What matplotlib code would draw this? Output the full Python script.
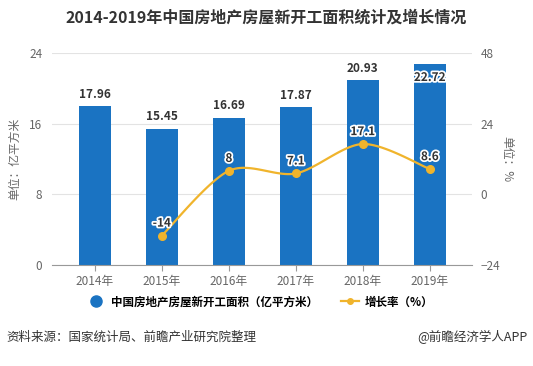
import numpy as np
import matplotlib
matplotlib.use("Agg")
import matplotlib.pyplot as plt
import matplotlib.patheffects as pe
from matplotlib.lines import Line2D

plt.rcParams['font.family'] = ['Noto Sans CJK SC', 'DejaVu Sans']

years = ["2014年", "2015年", "2016年", "2017年", "2018年", "2019年"]
area = [17.96, 15.45, 16.69, 17.87, 20.93, 22.72]
growth = [None, -14, 8, 7.1, 17.1, 8.6]
growth_labels = ["", "-14", "8", "7.1", "17.1", "8.6"]

BLUE = "#1a73c2"
ORANGE = "#f0b42c"
GREY = "#666666"
OUTLINE = [pe.withStroke(linewidth=2.5, foreground="white")]


def smooth(xs, ys, n=30):
    # echarts-style bezier smoothing, only for drawing the curve between points
    xs = np.asarray(xs, float); ys = np.asarray(ys, float)
    out_x, out_y = [], []
    k = 0.3
    for i in range(len(xs) - 1):
        p0 = np.array([xs[i], ys[i]]); p3 = np.array([xs[i + 1], ys[i + 1]])
        prev = np.array([xs[i - 1], ys[i - 1]]) if i > 0 else p0
        nxt = np.array([xs[i + 2], ys[i + 2]]) if i + 2 < len(xs) else p3
        c1 = p0 + (p3 - prev) * k / 2
        c2 = p3 - (nxt - p0) * k / 2
        t = np.linspace(0, 1, n)[:, None]
        pts = (1 - t) ** 3 * p0 + 3 * (1 - t) ** 2 * t * c1 + 3 * (1 - t) * t ** 2 * c2 + t ** 3 * p3
        out_x.extend(pts[:, 0]); out_y.extend(pts[:, 1])
    return out_x, out_y


fig = plt.figure(figsize=(5.33, 3.66), dpi=100)
ax = fig.add_axes([0.0976, 0.276, 0.788, 0.579])
x = np.arange(len(years))

ax.bar(x, area, width=0.48, color=BLUE, zorder=2)
for xi, v in zip(x, area):
    if v + 2.2 > 24:
        # label would leave the plot: keep it just inside the bar top
        ax.text(xi, v - 0.75, "{:.2f}".format(v), ha="center", va="top", fontsize=8.5,
                fontweight="bold", color="#333333", zorder=5, path_effects=OUTLINE)
    else:
        ax.text(xi, v + 0.6, "{:.2f}".format(v), ha="center", va="bottom", fontsize=8.5,
                fontweight="bold", color="#333333", zorder=5)

ax.set_xlim(-0.64, 5.63)
ax.set_ylim(0, 24)
ax.set_yticks([0, 8, 16, 24])
ax.set_xticks(x)
ax.set_xticklabels(years)
ax.grid(axis="y", color="#e3e3e3", lw=0.8, zorder=0)
for s in ["top", "right", "left"]:
    ax.spines[s].set_visible(False)
ax.spines["bottom"].set_color("#999999")
ax.tick_params(axis="y", length=0, colors=GREY, labelsize=8.5, pad=7)
ax.tick_params(axis="x", length=4, color="#999999", colors=GREY, labelsize=8.5)
ax.set_ylabel("单位：亿平方米", color=GREY, fontsize=8.5, labelpad=6)

ax2 = ax.twinx()
ax2.set_ylim(-24, 48)
ax2.set_yticks([-24, 0, 24, 48])
for s in ["top", "right", "left", "bottom"]:
    ax2.spines[s].set_visible(False)
ax2.tick_params(axis="y", length=0, colors=GREY, labelsize=8.5, pad=6)
ax2.set_ylabel("单位：%", color=GREY, fontsize=8.5, rotation=-90, labelpad=10)

gx = [xi for xi, g in zip(x, growth) if g is not None]
gy = [g for g in growth if g is not None]
sx, sy = smooth(gx, gy)
ax2.plot(sx, sy, color=ORANGE, lw=1.6, zorder=3)
ax2.scatter(gx, gy, s=30, color=ORANGE, zorder=4)
for xi, g, lab in zip(x, growth, growth_labels):
    if g is None:
        continue
    ax2.text(xi, g + 2.0, lab, ha="center", va="bottom", fontsize=8.5, fontweight="bold",
             color="#333333", zorder=6, path_effects=OUTLINE)

fig.text(0.5, 0.952, "2014-2019年中国房地产房屋新开工面积统计及增长情况", ha="center", va="center",
         fontsize=11.5, fontweight="bold", color="#333333")

handles = [Line2D([], [], marker="o", color="none", markerfacecolor=BLUE, markeredgecolor=BLUE,
                  markersize=8),
           Line2D([], [], marker="o", color=ORANGE, markersize=4, lw=1.6)]
fig.legend(handles, ["中国房地产房屋新开工面积（亿平方米）", "增长率（%）"], loc="center",
           bbox_to_anchor=(0.488, 0.175), ncol=2, frameon=False,
           prop={"weight": "bold", "size": 8.3}, handlelength=1.6, columnspacing=2.0,
           handletextpad=0.5)

fig.text(0.012, 0.078, "资料来源：国家统计局、前瞻产业研究院整理", ha="left", va="center",
         fontsize=9, color="#333333")
fig.text(0.99, 0.078, "@前瞻经济学人APP", ha="right", va="center", fontsize=9, color="#333333")

fig.savefig("out.png", dpi=100)
